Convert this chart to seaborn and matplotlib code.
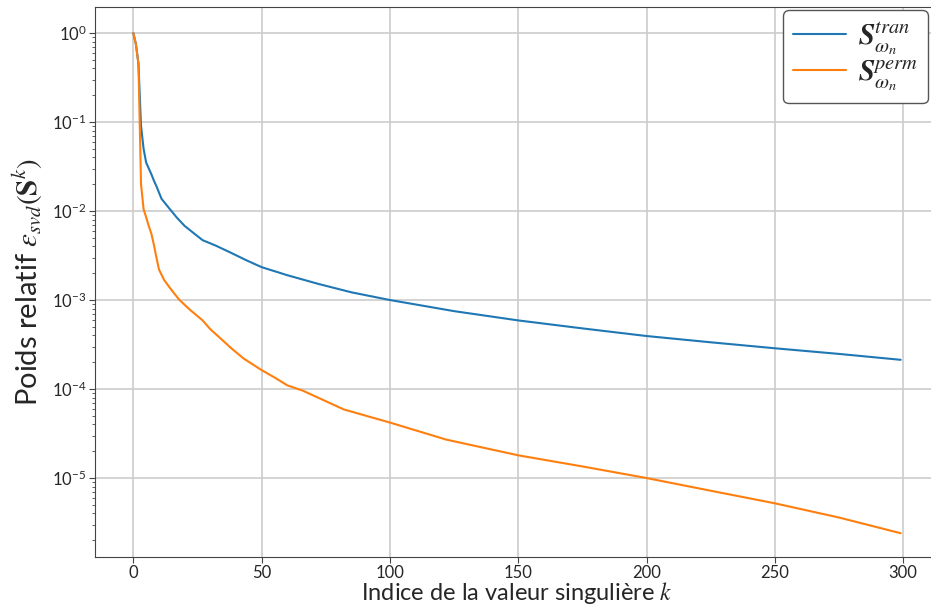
import matplotlib
matplotlib.use("Agg")
import matplotlib.pyplot as plt
from matplotlib.ticker import NullFormatter
import seaborn as sns
import pandas as pd

# values (index k -> relative weight)
k_tran = [0, 1, 2, 3, 4, 5, 7, 8, 9, 11, 14, 17, 20, 24, 27, 32, 38, 44, 50, 60, 72, 85, 100,
          125, 150, 175, 200, 225, 250, 275, 299]
w_tran = [1.0, 0.75, 0.45, 0.09, 0.05, 0.035, 0.026, 0.022, 0.019, 0.0137, 0.0107, 0.0084,
          0.0068, 0.0055, 0.0047, 0.0041, 0.0034, 0.0028, 0.00234, 0.0019, 0.00152, 0.00122,
          0.001, 0.00075, 0.00059, 0.00048, 0.000394, 0.000335, 0.000287, 0.000248, 0.000213]

k_perm = [0, 1, 2, 3, 4, 5, 6, 7, 8, 9, 10, 12, 14, 16, 18, 22, 27, 30, 34, 38, 43, 50, 55,
          60, 66, 72, 82, 100, 122, 150, 175, 200, 225, 250, 275, 299]
w_perm = [1.0, 0.75, 0.45, 0.02, 0.0105, 0.0085, 0.0068, 0.0056, 0.0042, 0.003, 0.0022,
          0.00168, 0.0014, 0.00118, 0.001, 0.00078, 0.00059, 0.00047, 0.00037, 0.00029,
          0.00022, 0.000163, 0.000135, 0.00011, 9.6e-5, 8e-5, 5.9e-5, 4.2e-5, 2.7e-5, 1.8e-5,
          1.35e-5, 1.0e-5, 7.2e-6, 5.2e-6, 3.6e-6, 2.4e-6]

lab_tran = r"$\boldsymbol{S}^{tran}_{\omega_n}$"
lab_perm = r"$\boldsymbol{S}^{perm}_{\omega_n}$"

df = pd.concat([
    pd.DataFrame({"k": k_tran, "w": w_tran, "serie": lab_tran}),
    pd.DataFrame({"k": k_perm, "w": w_perm, "serie": lab_perm}),
])

sns.set_style("ticks")
plt.rcParams["font.family"] = ["Lato", "DejaVu Sans"]
plt.rcParams["mathtext.fontset"] = "stix"

fig = plt.figure(figsize=(9.31, 6.06), dpi=100)
ax = fig.add_axes([0.102, 0.081, 0.9066, 0.9075])

sns.lineplot(data=df, x="k", y="w", hue="serie", palette=["#1f77b4", "#ff7f0e"],
             linewidth=1.5, ax=ax)

ax.set_yscale("log")
ax.set_xlim(-14.95, 313.95)
ax.set_ylim(1.3e-6, 1.96)
ax.yaxis.set_minor_formatter(NullFormatter())
ax.grid(True, which="major", color="#cccccc", linewidth=1.2)
ax.tick_params(labelsize=12, pad=2, length=4, color="#444444")
ax.tick_params(which="minor", length=2.5, color="#444444")
for s in ax.spines.values():
    s.set_color("#444444")

ax.set_xlabel(r"Indice de la valeur singulière $k$", fontsize=17, labelpad=-1)
ax.set_ylabel(r"Poids relatif $\epsilon_{svd}(\mathbf{S}^k)$", fontsize=21, labelpad=5)

leg = ax.legend(loc="upper right", fontsize=21, fancybox=True, framealpha=1,
                edgecolor="#555555", handlelength=1.8, handletextpad=0.4,
                borderpad=0.35, labelspacing=0.05, borderaxespad=0,
                bbox_to_anchor=(0.987, 0.9945))
leg.get_frame().set_linewidth(1.0)
leg.set_title(None)

fig.savefig("out.png", dpi=100)
